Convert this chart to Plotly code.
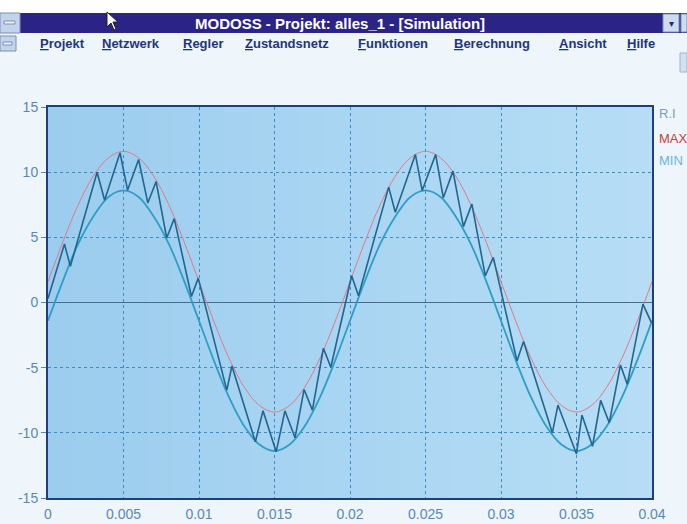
import plotly.graph_objects as go

# ---------------- data ----------------
# envelope samples, every 1 ms (time in seconds)
t_env = [i / 1000 for i in range(41)]
max_vals = [1.6, 4.7, 7.5, 9.7, 11.1, 11.6, 11.1, 9.7, 7.5, 4.7,
            1.6, -1.5, -4.3, -6.5, -7.9, -8.4, -7.9, -6.5, -4.3, -1.5,
            1.6, 4.7, 7.5, 9.7, 11.1, 11.6, 11.1, 9.7, 7.5, 4.7,
            1.6, -1.5, -4.3, -6.5, -7.9, -8.4, -7.9, -6.5, -4.3, -1.5,
            1.6]
min_vals = [-1.4, 1.7, 4.5, 6.6, 8.1, 8.6, 8.1, 6.6, 4.5, 1.7,
            -1.4, -4.5, -7.3, -9.5, -10.9, -11.4, -10.9, -9.5, -7.3, -4.5,
            -1.4, 1.7, 4.5, 6.6, 8.1, 8.6, 8.1, 6.6, 4.5, 1.7,
            -1.4, -4.5, -7.3, -9.5, -10.9, -11.4, -10.9, -9.5, -7.3, -4.5,
            -1.4]

# zig-zag current RI: vertices (time in ms, value)
ri_t_ms = [0, 1.09, 1.48, 3.25, 3.75, 4.77, 5.27, 6.0, 6.61, 7.16, 7.86, 8.36,
           9.5, 9.95, 11.84, 12.18, 13.73, 14.24, 15.11, 15.69, 16.36, 16.96,
           17.51, 18.24, 18.73, 20.11, 20.56, 22.56, 23.0, 24.33, 24.78, 25.67,
           26.18, 26.82, 27.51, 28.07, 28.96, 29.49, 31.06, 31.49, 33.40, 33.77,
           35.0, 35.36, 36.06, 36.60, 37.17, 37.91, 38.36, 39.40, 39.96]
ri_vals = [0.3, 4.49, 2.77, 10.0, 7.85, 11.49, 8.62, 10.97, 7.64, 9.28, 4.95, 6.44,
           0.46, 1.87, -6.72, -4.87, -10.69, -8.31, -11.46, -8.31, -10.38, -6.67,
           -8.26, -3.51, -4.97, 2.05, 0.51, 8.85, 6.92, 11.36, 8.59, 11.36,
           8.03, 10.08, 5.82, 7.56, 2.05, 3.46, -4.49, -3.0, -10.0, -7.87,
           -11.62, -8.64, -11.03, -7.51, -9.23, -4.79, -6.28, -0.13, -1.54]
ri_t = [v / 1000 for v in ri_t_ms]

x_ticks = [0, 0.005, 0.01, 0.015, 0.02, 0.025, 0.03, 0.035, 0.04]
x_tick_labels = ["0", "0.005", "0.01", "0.015", "0.02", "0.025", "0.03", "0.035", "0.04"]
y_ticks = [-15, -10, -5, 0, 5, 10, 15]
y_tick_labels = ["-15", "-10", "-5", "0", "5", "10", "15"]

legend_names = ["R.I", "MAX", "MIN"]
menu_items = ["Projekt", "Netzwerk", "Regler", "Zustandsnetz", "Funktionen",
              "Berechnung", "Ansicht", "Hilfe"]
window_title = "MODOSS - Projekt: alles_1 - [Simulation]"

# ---------------- layout geometry ----------------
W, H = 687, 524
L, R, T, B = 48, 35, 107, 26
PW, PH = W - L - R, H - T - B


def px(x):
    return (x - L) / PW


def py(y):
    return (H - B - y) / PH


fig = go.Figure()

fig.add_trace(go.Scatter(x=t_env, y=max_vals, mode="lines", line_shape="spline",
                         line=dict(color="#e07a86", width=1), name="MAX", hoverinfo="skip"))
fig.add_trace(go.Scatter(x=t_env, y=min_vals, mode="lines", line_shape="spline",
                         line=dict(color="#2c9ec8", width=1.8), name="MIN", hoverinfo="skip"))
fig.add_trace(go.Scatter(x=ri_t, y=ri_vals, mode="lines",
                         line=dict(color="#1f6690", width=1.6), name="R.I", hoverinfo="skip"))

tick_font = dict(family="Liberation Sans, Arial, sans-serif", size=14, color="#5a88b5")

fig.update_layout(
    width=W, height=H, autosize=False,
    margin=dict(l=L, r=R, t=T, b=B, pad=0, autoexpand=False),
    paper_bgcolor="#eef5fb",
    plot_bgcolor="#a8d3f0",
    showlegend=False,
    xaxis=dict(range=[0, 0.04], tickvals=x_ticks, ticktext=x_tick_labels,
               showgrid=True, gridcolor="#3d8cc4", griddash="dot", gridwidth=1,
               showline=True, linecolor="#1f3f7a", linewidth=2, mirror=True,
               ticks="outside", ticklen=2, tickcolor="rgba(0,0,0,0)",
               automargin=False, zeroline=False, tickfont=tick_font),
    yaxis=dict(range=[-15, 15], tickvals=y_ticks, ticktext=y_tick_labels,
               showgrid=True, gridcolor="#3d8cc4", griddash="dot", gridwidth=1,
               showline=True, linecolor="#1f3f7a", linewidth=2, mirror=True,
               ticks="outside", ticklen=5, tickcolor="#5a88b5", automargin=False,
               zeroline=True, zerolinecolor="#4a6a8c", zerolinewidth=1.2,
               tickfont=tick_font),
)

shapes = []
# subtle horizontal gradient of the plot background (darker left, lighter right)
n_strips = 24
c0, c1 = (156, 205, 238), (182, 221, 245)
for i in range(n_strips):
    f = i / (n_strips - 1)
    col = "rgb(%d,%d,%d)" % tuple(round(a + (b - a) * f) for a, b in zip(c0, c1))
    shapes.append(dict(type="rect", xref="paper", yref="paper",
                       x0=i / n_strips, x1=(i + 1) / n_strips + 0.002, y0=0, y1=1,
                       fillcolor=col, line_width=0, layer="below"))
# white strip at very top
shapes.append(dict(type="rect", xref="paper", yref="paper", x0=px(0), x1=px(W),
                   y0=py(13), y1=py(0), fillcolor="#ffffff", line_width=0, layer="below"))
# title bar
shapes.append(dict(type="rect", xref="paper", yref="paper", x0=px(0), x1=px(W),
                   y0=py(33), y1=py(13), fillcolor="#2c2386", line_width=0))
# system menu box
shapes.append(dict(type="rect", xref="paper", yref="paper", x0=px(0), x1=px(20),
                   y0=py(33), y1=py(13), fillcolor="#c3d3ea", line=dict(color="#7a8fb8", width=1)))
shapes.append(dict(type="rect", xref="paper", yref="paper", x0=px(4), x1=px(15),
                   y0=py(24), y1=py(21), fillcolor="#eef3fa", line=dict(color="#7a8fb8", width=1)))
# right title bar buttons
shapes.append(dict(type="rect", xref="paper", yref="paper", x0=px(663), x1=px(679),
                   y0=py(32), y1=py(14), fillcolor="#cfdbee", line=dict(color="#7a8fb8", width=1)))
shapes.append(dict(type="rect", xref="paper", yref="paper", x0=px(681), x1=px(W),
                   y0=py(32), y1=py(14), fillcolor="#cfdbee", line=dict(color="#7a8fb8", width=1)))
# second-row system box
shapes.append(dict(type="rect", xref="paper", yref="paper", x0=px(0), x1=px(16),
                   y0=py(51), y1=py(36), fillcolor="#c3d3ea", line=dict(color="#7a8fb8", width=1)))
shapes.append(dict(type="rect", xref="paper", yref="paper", x0=px(3), x1=px(12),
                   y0=py(45), y1=py(42), fillcolor="#eef3fa", line=dict(color="#7a8fb8", width=1)))
# right scroll stub
shapes.append(dict(type="rect", xref="paper", yref="paper", x0=px(680), x1=px(W),
                   y0=py(72), y1=py(53), fillcolor="#d5e0ef", line=dict(color="#9fb2cf", width=1)))
# mouse cursor
cx, cy = 107, 12
pts = [(0, 0), (0, 15), (4, 11), (7, 18), (9, 17), (6, 10), (11, 10)]
path = "M " + " L ".join(f"{px(cx + a):.5f},{py(cy + b):.5f}" for a, b in pts) + " Z"
shapes.append(dict(type="path", xref="paper", yref="paper", path=path,
                   fillcolor="#ffffff", line=dict(color="#202020", width=1)))

fig.update_layout(shapes=shapes)

ann = []
ann.append(dict(x=px(340), y=py(23), xref="paper", yref="paper", text="<b>" + window_title + "</b>",
                showarrow=False, xanchor="center", yanchor="middle",
                font=dict(family="Liberation Sans, Arial, sans-serif", size=15, color="#ffffff")))
ann.append(dict(x=px(671), y=py(23), xref="paper", yref="paper", text="▾",
                showarrow=False, xanchor="center", yanchor="middle",
                font=dict(family="DejaVu Sans", size=10, color="#2c2386")))

menu_x = [38, 100, 181, 243, 356, 452, 557, 625]
for name, mx in zip(menu_items, menu_x):
    ann.append(dict(x=px(mx), y=py(43), xref="paper", yref="paper",
                    text="<b><u>" + name[0] + "</u>" + name[1:] + "</b>",
                    showarrow=False, xanchor="left", yanchor="middle",
                    font=dict(family="Liberation Sans, Arial, sans-serif",
                              size=13, color="#23357a")))

leg_colors = ["#7a9cbc", "#d23a3a", "#6cb4dc"]
leg_y = [113, 138, 160]
for name, c, ly in zip(legend_names, leg_colors, leg_y):
    ann.append(dict(x=px(657), y=py(ly), xref="paper", yref="paper", text=name,
                    showarrow=False, xanchor="left", yanchor="middle",
                    font=dict(family="Liberation Sans, Arial, sans-serif", size=13, color=c)))

fig.update_layout(annotations=ann)

fig.write_html("out.html", config={"displayModeBar": False},
               post_script="document.body.style.margin='0';document.body.style.padding='0';")
